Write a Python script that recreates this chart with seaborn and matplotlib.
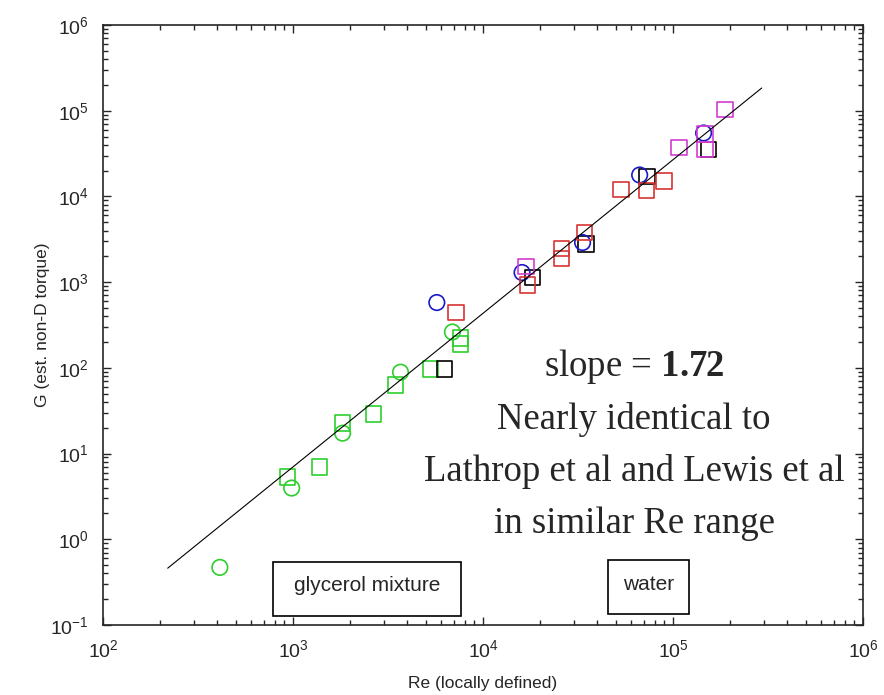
import matplotlib
matplotlib.use("Agg")
from matplotlib import pyplot as plt
from matplotlib.patches import Rectangle
import pandas as pd
import seaborn as sns

# Re (locally defined) and G (est. non-D torque), per marker group
green_circle_re = [412, 984, 1824, 3681, 6902]
green_circle_g = [0.47, 3.96, 17.3, 89, 262]

green_square_re = [938, 1380, 1824, 2655, 3467, 5295, 7603, 7603]
green_square_g = [5.3, 6.96, 22.7, 28.9, 63, 96.8, 223, 190]

black_square_re = [6266, 18180, 34820, 73100, 153500]
black_square_g = [96.8, 1132, 2784, 17170, 35450]

blue_circle_re = [5714, 16050, 33420, 66750, 144900]
blue_circle_g = [578, 1295, 2898, 17780, 54950]

red_square_re = [7227, 17180, 25920, 25920, 34120, 53180, 72450, 89740]
red_square_g = [440, 925, 2479, 1885, 3810, 12040, 11720, 15130]

magenta_square_re = [16850, 107700, 147500, 147500, 187900]
magenta_square_g = [1513, 37400, 53500, 35450, 103800]

# power-law fit line end points (slope 1.72)
fit_re = [219, 293000]
fit_g = [0.46, 184000]

note_lines = ["slope = $\\mathbf{1.72}$", "Nearly identical to",
              "Lathrop et al and Lewis et al", "in similar Re range"]

groups = [
    ("green_o", green_circle_re, green_circle_g, "o", "#2ccf2c"),
    ("green_s", green_square_re, green_square_g, "s", "#2ccf2c"),
    ("black_s", black_square_re, black_square_g, "s", "#000000"),
    ("blue_o", blue_circle_re, blue_circle_g, "o", "#1a1ac8"),
    ("red_s", red_square_re, red_square_g, "s", "#d83434"),
    ("magenta_s", magenta_square_re, magenta_square_g, "s", "#d23cd2"),
]

sns.set_style("ticks")
plt.rcParams["font.family"] = ["Liberation Sans", "DejaVu Sans"]
plt.rcParams["mathtext.fontset"] = "custom"
plt.rcParams["mathtext.rm"] = "Liberation Sans"
plt.rcParams["mathtext.bf"] = "Liberation Serif:bold"
plt.rcParams["axes.unicode_minus"] = False

fig = plt.figure(figsize=(8.84, 6.95), dpi=100)
ax = fig.add_axes([103 / 884, 70 / 695, 760 / 884, 600 / 695])

for name, re, g, marker, color in groups:
    df = pd.DataFrame({"Re": re, "G": g})
    sns.scatterplot(data=df, x="Re", y="G", marker=marker, s=125,
                    color=color, facecolor="none", edgecolor=color,
                    linewidth=1.2, ax=ax, zorder=3)

sns.lineplot(x=fit_re, y=fit_g, color="black", linewidth=0.8, ax=ax, zorder=4)

ax.set_xscale("log")
ax.set_yscale("log")
ax.set_xlim(1e2, 1e6)
ax.set_ylim(1e-1, 1e6)
ax.set_xlabel("Re (locally defined)", fontsize=12.5, labelpad=11)
ax.set_ylabel("G (est. non-D torque)", fontsize=12.5, labelpad=0)
ax.tick_params(which="both", direction="in", top=True, right=True,
               labelsize=14, width=1.0)
ax.tick_params(which="major", length=6, pad=10)
ax.tick_params(which="minor", length=3.5)
for sp in ax.spines.values():
    sp.set_linewidth(1.2)

# annotation text
serif = ["Liberation Serif", "DejaVu Serif"]
for i, line in enumerate(note_lines):
    ax.text(0.699, 0.43 - i * 0.087, line, transform=ax.transAxes,
            ha="center", va="center", fontsize=26.5, family=serif)

# labelled boxes near the bottom axis
boxes = [("glycerol mixture", 0.2233, 0.0155, 0.2474, 0.09),
         ("water", 0.664, 0.0178, 0.1067, 0.0905)]
for label, x0, y0, w, h in boxes:
    ax.add_patch(Rectangle((x0, y0), w, h, transform=ax.transAxes,
                           fill=False, edgecolor="black", linewidth=1.2))
    ax.text(x0 + w / 2, y0 + h / 2 + 0.005, label, transform=ax.transAxes,
            ha="center", va="center", fontsize=15)

fig.savefig("out.png", dpi=100)
